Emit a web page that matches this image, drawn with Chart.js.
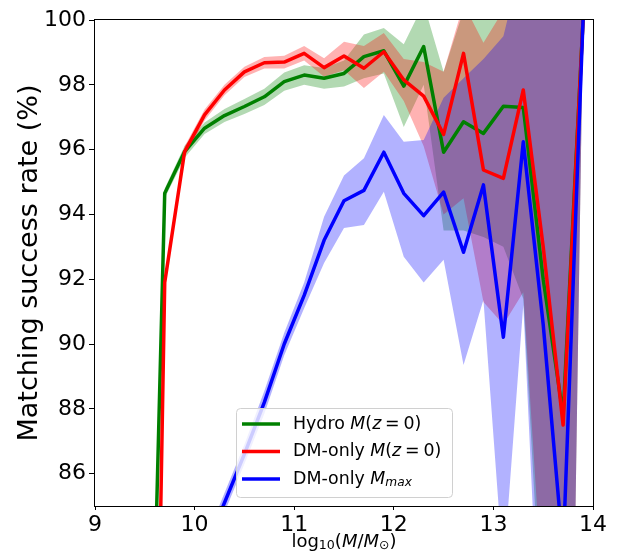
<!DOCTYPE html>
<html>
<head>
<meta charset="utf-8">
<script src="https://cdn.jsdelivr.net/npm/chart.js@4.4.0/dist/chart.umd.min.js"></script>
<style>
  body { margin: 0; background: #fff; }
</style>
</head>
<body>
<canvas id="matchChart" width="617" height="555"></canvas>
<script>
// log10(M/Msun) bin centres
const massBins = [9.5, 9.7, 9.9, 10.1, 10.3, 10.5, 10.7, 10.9, 11.1, 11.3, 11.5, 11.7,
                  11.9, 12.1, 12.3, 12.5, 12.7, 12.9, 13.1, 13.3, 13.5, 13.7, 13.9];

// Hydro M(z=0)
const hydroRate = [70.6, 94.65, 95.94, 96.66, 97.05, 97.33, 97.63, 98.10, 98.30, 98.20, 98.35, 98.87,
                   99.05, 97.96, 99.18, 95.92, 96.86, 96.50, 97.34, 97.30, 92.0, 87.8, 100];
const hydroLow  = [69.0, 94.5, 95.75, 96.48, 96.85, 97.1, 97.38, 97.82, 98.0, 97.88, 97.95, 98.2,
                   98.35, 96.7, 98.0, 93.5, 93.5, 93.3, 93.0, 91.4, 80.5, 60, 100];
const hydroHigh = [72.2, 94.8, 96.12, 96.84, 97.25, 97.56, 97.88, 98.38, 98.6, 98.52, 98.75, 99.55,
                   99.75, 99.25, 100.5, 98.4, 100.3, 100.5, 100.4, 101, 104, 102, 100];

// DM-only M(z=0)
const dmRate = [57.0, 91.9, 95.94, 97.07, 97.84, 98.40, 98.68, 98.70, 98.97, 98.53, 98.89, 98.51,
                99.02, 98.15, 97.65, 96.47, 98.97, 95.37, 95.11, 97.84, 93.0, 87.5, 100];
const dmLow  = [55.5, 91.75, 95.78, 96.9, 97.68, 98.24, 98.5, 98.5, 98.75, 98.25, 98.45, 97.9,
                98.4, 97.5, 96.1, 94.0, 94.5, 91.3, 90.6, 91.6, 82, 60, 100];
const dmHigh = [58.5, 92.05, 96.1, 97.24, 98.0, 98.56, 98.86, 98.9, 99.2, 98.82, 99.33, 99.2,
                99.6, 98.8, 98.7, 98.4, 100.5, 99.3, 100.3, 101, 104, 102, 100];

// DM-only M_max
const dmMaxRate = [65.0, 72.0, 78.0, 83.6, 85.1, 86.6, 88.2, 90.0, 91.5, 93.2, 94.42, 94.74,
                   95.92, 94.65, 93.96, 94.69, 92.83, 94.91, 90.21, 96.24, 90.6, 83.6, 100];
const dmMaxLow  = [64.5, 71.5, 77.6, 83.3, 84.8, 86.3, 87.85, 89.65, 91.1, 92.5, 93.58, 93.67,
                   94.70, 92.69, 91.9, 92.6, 89.35, 91.36, 83.0, 91.2, 78, 60, 100];
const dmMaxHigh = [65.5, 72.5, 78.4, 83.9, 85.4, 86.9, 88.55, 90.35, 91.9, 93.93, 95.2, 95.73,
                   97.07, 96.24, 96.3, 97.6, 98.2, 98.8, 99.5, 102, 104, 102, 100];

const xTicks = [9, 10, 11, 12, 13, 14];
const yTicks = [86, 88, 90, 92, 94, 96, 98, 100];

const FONT = '"DejaVu Sans", sans-serif';

// text pieces: n = upright, i = italic, rel = relation with spaces,
// sub = italic subscript, subn = upright subscript
const legendItems = [
  { color: 'green', parts: [['Hydro ', 'n'], ['M', 'i'], ['(', 'n'], ['z', 'i'], ['=', 'rel'], ['0)', 'n']] },
  { color: 'red',   parts: [['DM-only ', 'n'], ['M', 'i'], ['(', 'n'], ['z', 'i'], ['=', 'rel'], ['0)', 'n']] },
  { color: 'blue',  parts: [['DM-only ', 'n'], ['M', 'i'], ['max', 'sub']] }
];
const xTitleParts = [['log', 'n'], ['10', 'subn'], ['(', 'n'], ['M', 'i'], ['/', 'n'], ['M', 'i'], ['\u2299', 'subn'], [')', 'n']];

const pts = ys => massBins.map((x, i) => ({ x: x, y: ys[i] }));

function band(high, low, color, order) {
  return [
    { data: pts(high), fill: '+1', backgroundColor: color, borderColor: 'rgba(0,0,0,0)',
      borderWidth: 0, pointRadius: 0, order: order },
    { data: pts(low), fill: false, backgroundColor: color, borderColor: 'rgba(0,0,0,0)',
      borderWidth: 0, pointRadius: 0, order: order }
  ];
}

function line(ys, color, order) {
  return { data: pts(ys), borderColor: color, borderWidth: 3.5, pointRadius: 0, fill: false,
           borderJoinStyle: 'round', clip: 0, order: order };
}

function richWidth(ctx, parts, size) {
  let w = 0;
  for (const [text, style] of parts) {
    const fs = style.startsWith('sub') ? size * 0.7 : size;
    ctx.font = (style === 'i' || style === 'sub' ? 'italic ' : '') + fs + 'px ' + FONT;
    w += ctx.measureText(text).width + (style === 'rel' ? size * 0.44 : 0);
  }
  return w;
}

function drawRich(ctx, x, y, parts, size) {
  let cx = x;
  for (const [text, style] of parts) {
    let fs = size, dy = 0, pad = 0;
    const italic = style === 'i' || style === 'sub';
    if (style.startsWith('sub')) { fs = size * 0.7; dy = size * 0.22; }
    if (style === 'rel') pad = size * 0.22;
    ctx.font = (italic ? 'italic ' : '') + fs + 'px ' + FONT;
    cx += pad;
    ctx.fillText(text, cx, y + dy);
    cx += ctx.measureText(text).width + pad;
  }
}

const framePlugin = {
  id: 'frame',
  afterDatasetsDraw(chart) {
    const { ctx, chartArea: a } = chart;
    ctx.save();
    ctx.strokeStyle = '#000';
    ctx.lineWidth = 1;
    ctx.strokeRect(Math.round(a.left) - 0.5, Math.round(a.top) - 0.5,
                   Math.round(a.right - a.left) + 1, Math.round(a.bottom - a.top) + 1);
    ctx.restore();
  }
};

const textPlugin = {
  id: 'innerLegend',
  afterDraw(chart) {
    const { ctx, chartArea: a } = chart;
    ctx.save();
    // x axis label
    ctx.fillStyle = '#000';
    ctx.textBaseline = 'middle';
    const tw = richWidth(ctx, xTitleParts, 18);
    drawRich(ctx, (a.left + a.right) / 2 - tw / 2, 542, xTitleParts, 18);

    // legend box, lower middle of the axes
    const x0 = a.left + 141, y1 = a.bottom - 9;
    const w = 216, h = 89, y0 = y1 - h;
    ctx.beginPath();
    ctx.roundRect(x0 + 0.5, y0 + 0.5, w, h, 4);
    ctx.fillStyle = 'rgba(255,255,255,0.8)';
    ctx.fill();
    ctx.strokeStyle = '#d0d0d0';
    ctx.lineWidth = 1;
    ctx.stroke();
    ctx.fillStyle = '#000';
    legendItems.forEach((item, i) => {
      const ry = y0 + 16 + i * 27.5;
      ctx.beginPath();
      ctx.moveTo(x0 + 6, ry);
      ctx.lineTo(x0 + 44, ry);
      ctx.strokeStyle = item.color;
      ctx.lineWidth = 3.5;
      ctx.stroke();
      drawRich(ctx, x0 + 57, ry, item.parts, 17.4);
    });
    ctx.restore();
  }
};

new Chart(document.getElementById('matchChart'), {
  type: 'line',
  data: {
    datasets: [
      ...band(hydroHigh, hydroLow, 'rgba(0,128,0,0.3)', 12),
      ...band(dmHigh, dmLow, 'rgba(255,0,0,0.3)', 11),
      ...band(dmMaxHigh, dmMaxLow, 'rgba(0,0,255,0.3)', 10),
      line(hydroRate, 'green', 3),
      line(dmRate, 'red', 2),
      line(dmMaxRate, 'blue', 1)
    ]
  },
  options: {
    responsive: false,
    animation: false,
    layout: { padding: { top: 20, right: 24, left: 0, bottom: 0 } },
    plugins: { legend: { display: false }, tooltip: { enabled: false } },
    scales: {
      x: {
        type: 'linear', min: 9, max: 14,
        afterBuildTicks: s => { s.ticks = xTicks.map(v => ({ value: v })); },
        afterFit: s => { s.height = 49; },
        grid: { drawOnChartArea: false, drawTicks: true, tickLength: 4, color: '#000' },
        border: { display: false },
        ticks: { color: '#000', padding: 2, maxRotation: 0, font: { family: FONT, size: 22 } },
        title: { display: false }
      },
      y: {
        type: 'linear', min: 85, max: 100,
        afterBuildTicks: s => { s.ticks = yTicks.map(v => ({ value: v })); },
        afterFit: s => { s.width = 95; },
        grid: { drawOnChartArea: false, drawTicks: true, tickLength: 6, color: '#000' },
        border: { display: false },
        ticks: { color: '#000', padding: 3, font: { family: FONT, size: 22 } },
        title: { display: true, text: 'Matching success rate (%)', color: '#000',
                 padding: { top: 14, bottom: 0 }, font: { family: FONT, size: 27 } }
      }
    }
  },
  plugins: [framePlugin, textPlugin]
});
</script>
</body>
</html>
